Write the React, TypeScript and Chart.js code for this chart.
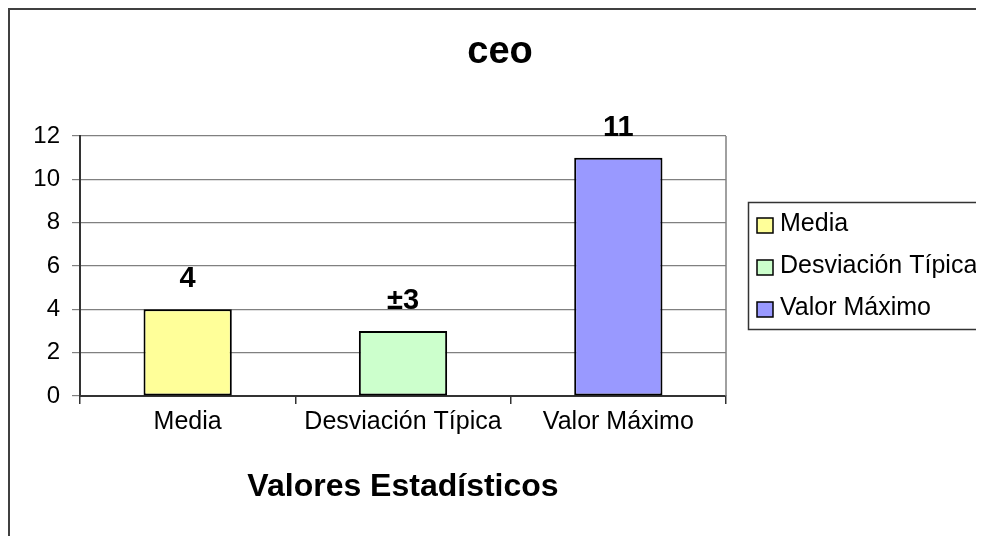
import React, { useEffect, useRef } from 'react';
import { Chart, registerables } from 'chart.js';

Chart.register(...registerables);

const FONT = '"Liberation Sans", Arial, Helvetica, sans-serif';

const chartTitle = 'ceo';
const xAxisTitle = 'Valores Estadísticos';
const categories = ['Media', 'Desviación Típica', 'Valor Máximo'];
const values = [4, 3, 11];
const valueLabels = ['4', '±3', '11'];
const barColors = ['#FFFF99', '#CCFFCC', '#9999FF'];
const yMin = 0;
const yMax = 12;
const yStep = 2;

export default function App() {
  const ref = useRef<HTMLCanvasElement>(null);

  useEffect(() => {
    if (!ref.current) return;

    const overlay = {
      id: 'overlay',
      beforeDraw(chart: any) {
        const { ctx, width, height } = chart;
        ctx.save();
        ctx.fillStyle = '#ffffff';
        ctx.fillRect(0, 0, width, height);
        ctx.fillStyle = '#404040';
        ctx.fillRect(0, 0, 2, height);
        ctx.fillRect(0, 0, width, 2);
        ctx.restore();
      },
      beforeDatasetsDraw(chart: any) {
        const { ctx, chartArea } = chart;
        ctx.save();
        ctx.strokeStyle = '#808080';
        ctx.lineWidth = 1.5;
        ctx.beginPath();
        ctx.moveTo(chartArea.right, chartArea.top);
        ctx.lineTo(chartArea.right, chartArea.bottom);
        ctx.stroke();
        ctx.restore();
      },
      afterDraw(chart: any) {
        const { ctx, width } = chart;
        const meta = chart.getDatasetMeta(0);
        ctx.save();
        ctx.fillStyle = '#000';
        ctx.textAlign = 'center';
        ctx.textBaseline = 'alphabetic';
        ctx.font = `bold 29px ${FONT}`;
        meta.data.forEach((bar: any, i: number) => {
          ctx.fillText(valueLabels[i], bar.x, bar.y - 22);
        });

        // chart title
        ctx.font = `bold 38px ${FONT}`;
        ctx.fillText(chartTitle, 492, 55);

        // legend
        const lx = 740;
        const ly = 194.5;
        ctx.strokeStyle = '#333';
        ctx.lineWidth = 1.5;
        ctx.strokeRect(lx + 0.5, ly, width - lx + 20, 127);
        ctx.font = `25px ${FONT}`;
        ctx.textAlign = 'left';
        categories.forEach((c, i) => {
          const top = 210 + i * 42;
          ctx.fillStyle = barColors[i];
          ctx.fillRect(749, top, 16, 15);
          ctx.strokeStyle = '#000';
          ctx.lineWidth = 1.5;
          ctx.strokeRect(749, top, 16, 15);
          ctx.fillStyle = '#000';
          ctx.fillText(c, 772, top + 13);
        });
        ctx.restore();
      },
    };

    const chart = new Chart(ref.current, {
      type: 'bar',
      data: {
        labels: categories,
        datasets: [
          {
            data: values,
            backgroundColor: barColors,
            borderColor: '#000',
            borderWidth: 2,
            borderSkipped: false,
            barPercentage: 0.41,
            categoryPercentage: 1,
          },
        ],
      },
      options: {
        animation: false,
        responsive: true,
        maintainAspectRatio: false,
        layout: { padding: { top: 128, right: 258, left: 0, bottom: 0 } },
        plugins: {
          legend: { display: false },
          title: { display: false },
          tooltip: { enabled: false },
        },
        scales: {
          x: {
            grid: {
              display: true,
              drawOnChartArea: false,
              drawTicks: true,
              tickLength: 8,
              color: '#333',
              lineWidth: 1.5,
              offset: true,
            },
            border: { display: true, color: '#333', width: 2 },
            ticks: {
              color: '#000',
              padding: 3,
              font: { family: FONT, size: 25 },
              maxRotation: 0,
              autoSkip: false,
            },
            title: {
              display: true,
              text: xAxisTitle,
              color: '#000',
              font: { family: FONT, size: 32, weight: 'bold' },
              padding: { top: 0, bottom: 30 },
            },
            afterFit: (s: any) => {
              s.height = 140;
            },
          },
          y: {
            min: yMin,
            max: yMax,
            grid: {
              color: '#808080',
              lineWidth: 1.2,
              tickLength: 8,
            },
            border: { display: true, color: '#333', width: 2 },
            ticks: {
              stepSize: yStep,
              color: '#000',
              padding: 12,
              font: { family: FONT, size: 24 },
            },
            afterFit: (s: any) => {
              s.width = 72;
            },
          },
        },
      },
      plugins: [overlay],
    });

    return () => chart.destroy();
  }, []);

  return (
    <div style={{ position: 'relative', width: 976, height: 528 }}>
      <canvas ref={ref} />
    </div>
  );
}
